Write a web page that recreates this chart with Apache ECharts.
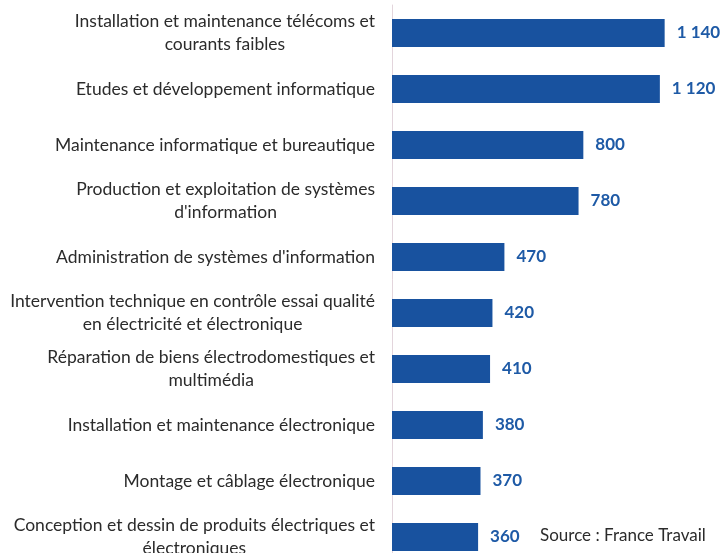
<!DOCTYPE html>
<html>
<head>
<meta charset="utf-8">
<script src="https://cdn.jsdelivr.net/npm/echarts@6/dist/echarts.min.js"></script>
<style>
  html, body { margin: 0; padding: 0; background: #fff; }
  #chart { width: 727px; height: 553px; }
</style>
</head>
<body>
<div id="chart"></div>
<script>
const categories = [
  "Installation et maintenance télécoms et\ncourants faibles",
  "Etudes et développement informatique",
  "Maintenance informatique et bureautique",
  "Production et exploitation de systèmes\nd'information",
  "Administration de systèmes d'information",
  "Intervention technique en contrôle essai qualité\nen électricité et électronique",
  "Réparation de biens électrodomestiques et\nmultimédia",
  "Installation et maintenance électronique",
  "Montage et câblage électronique",
  "Conception et dessin de produits électriques et\nélectroniques"
];
const values = [1140, 1120, 800, 780, 470, 420, 410, 380, 370, 360];
const sourceText = "Source : France Travail";

const chart = echarts.init(document.getElementById("chart"));

const fontFamily = "Lato";

const option = {
  animation: false,
  grid: { left: 392, width: 287, top: 5, height: 560, outerBoundsMode: "none", containLabel: false },
  xAxis: {
    type: "value",
    min: 0,
    max: 1200,
    show: false
  },
  yAxis: {
    type: "category",
    inverse: true,
    data: categories,
    axisTick: { show: false },
    axisLine: { show: true, lineStyle: { color: "#e3d5dc", width: 1 } },
    axisLabel: {
      margin: 17,
      formatter: function (v) {
        return v.split("\n").map(l => "{c|" + l + "}").join("\n");
      },
      rich: {
        c: {
          align: "center",
          fontFamily: fontFamily,
          fontSize: 17.5,
          color: "#2b2b2b",
          lineHeight: 23
        }
      }
    }
  },
  series: [
    {
      type: "bar",
      data: values,
      barCategoryGap: "50%",
      itemStyle: { color: "#18529f" },
      label: {
        show: true,
        position: "right",
        distance: 12,
        fontFamily: fontFamily,
        fontSize: 17,
        fontWeight: "bold",
        color: "#1e5aa6",
        formatter: p => p.value >= 1000
          ? Math.floor(p.value / 1000) + " " + String(p.value % 1000).padStart(3, "0")
          : String(p.value)
      }
    }
  ],
  graphic: [
    {
      type: "text",
      x: 540,
      y: 536,
      style: {
        text: sourceText,
        fontFamily: fontFamily,
        fontSize: 17,
        fill: "#2b2b2b",
        verticalAlign: "middle"
      }
    }
  ]
};

chart.setOption(option);
</script>
</body>
</html>
